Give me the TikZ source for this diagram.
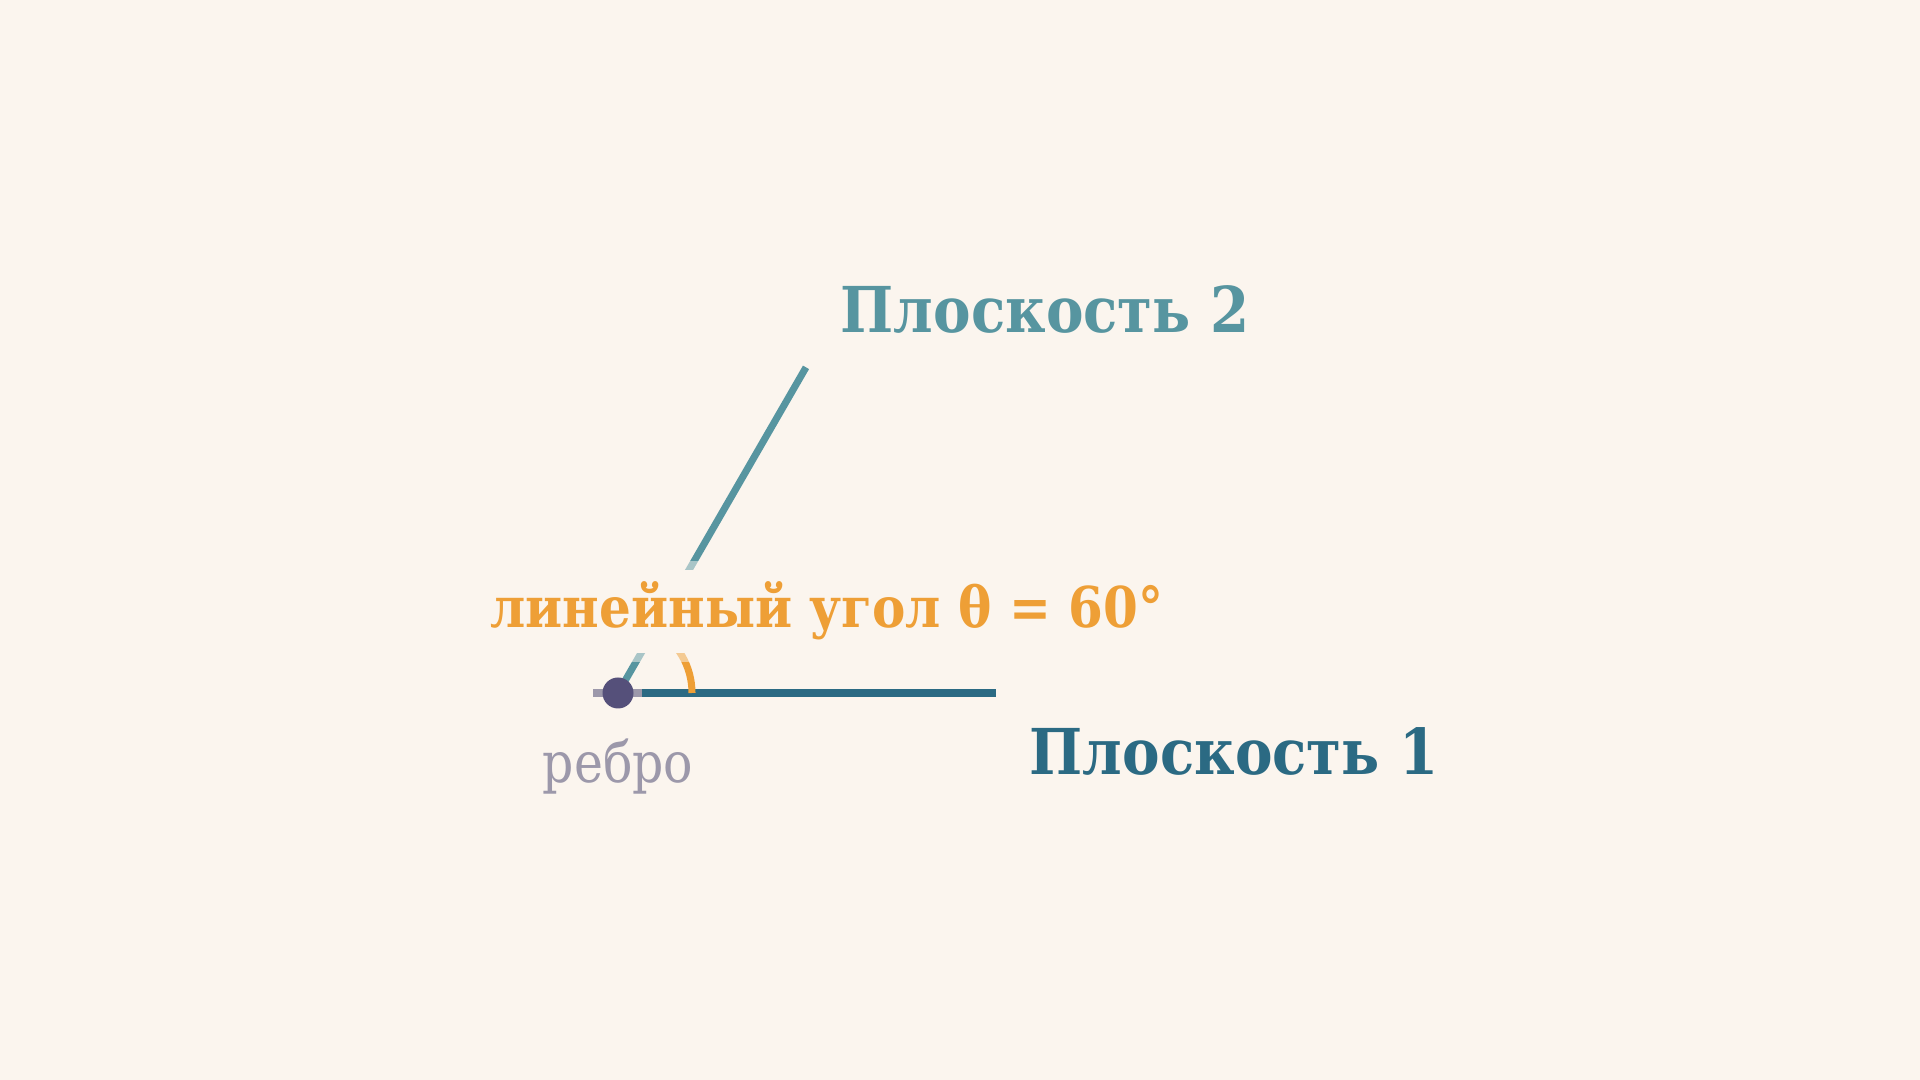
\documentclass[tikz,border=0pt]{standalone}
\usepackage{fontspec}
\setmainfont{DejaVu Serif}
\newfontfamily\narrowserif[FakeStretch=0.89]{DejaVu Serif}
\newfontfamily\edgeserif[FakeStretch=0.87]{DejaVu Serif}
\usetikzlibrary{positioning,calc}

\definecolor{bgcream}{HTML}{FBF5EE}
\definecolor{planeone}{HTML}{2B6A83}
\definecolor{planetwo}{HTML}{5795A0}
\definecolor{anglecol}{HTML}{EE9F36}
\definecolor{edgedot}{HTML}{55507A}
\definecolor{edgegray}{HTML}{9C98AA}

\begin{document}
\begin{tikzpicture}[
  plane/.style={line width=2pt},
  planelabel/.style={font=\narrowserif\bfseries\fontsize{18pt}{22pt}\selectfont, anchor=base west, inner sep=0pt},
  anglelabel/.style={font=\narrowserif\bfseries\fontsize{16pt}{20pt}\selectfont, anchor=base},
  halo/.style={fill=bgcream, inner xsep=2pt, inner ysep=3.5pt}
]
\fill[bgcream] (0,0) rectangle (19.2,10.8);
\useasboundingbox (0,0) rectangle (19.2,10.8);

% Edge and planes
\coordinate (O) at (6.18,3.87);
\coordinate (P1) at (9.96,3.87);
\coordinate (P2) at ($(O)+(60:3.76)$);
\draw[plane, planeone] (O) -- (P1);
\draw[plane, planetwo] (O) -- (P2);

% Angle
\draw[line width=2pt, anglecol] ($(O)+(0.74,0)$) arc (0:60:0.74);

% Angle label with halo
\node[anglelabel, halo, fill opacity=0.5, inner ysep=6pt, inner xsep=4pt, text opacity=0] (thetaglow) at (8.27,4.52) {линейный угол θ = 60°};
\node[anglelabel, halo, text=anglecol] (theta) at (8.27,4.52) {линейный угол θ = 60°};

% Edge seen end-on
\draw[line width=2pt, edgegray] (5.93,3.87) -- (6.42,3.87);
\fill[edgedot] (O) circle (0.155);
\node[text=edgegray, font=\edgeserif\fontsize{16pt}{20pt}\selectfont, anchor=base] (edge) at (6.18,2.97) {ребро};

% Plane labels
\node[planelabel, text=planetwo] (lbltwo) at (8.40,7.47) {Плоскость 2};
\node[planelabel, text=planeone] (lblone) at (10.29,3.05) {Плоскость 1};
\end{tikzpicture}
\end{document}
